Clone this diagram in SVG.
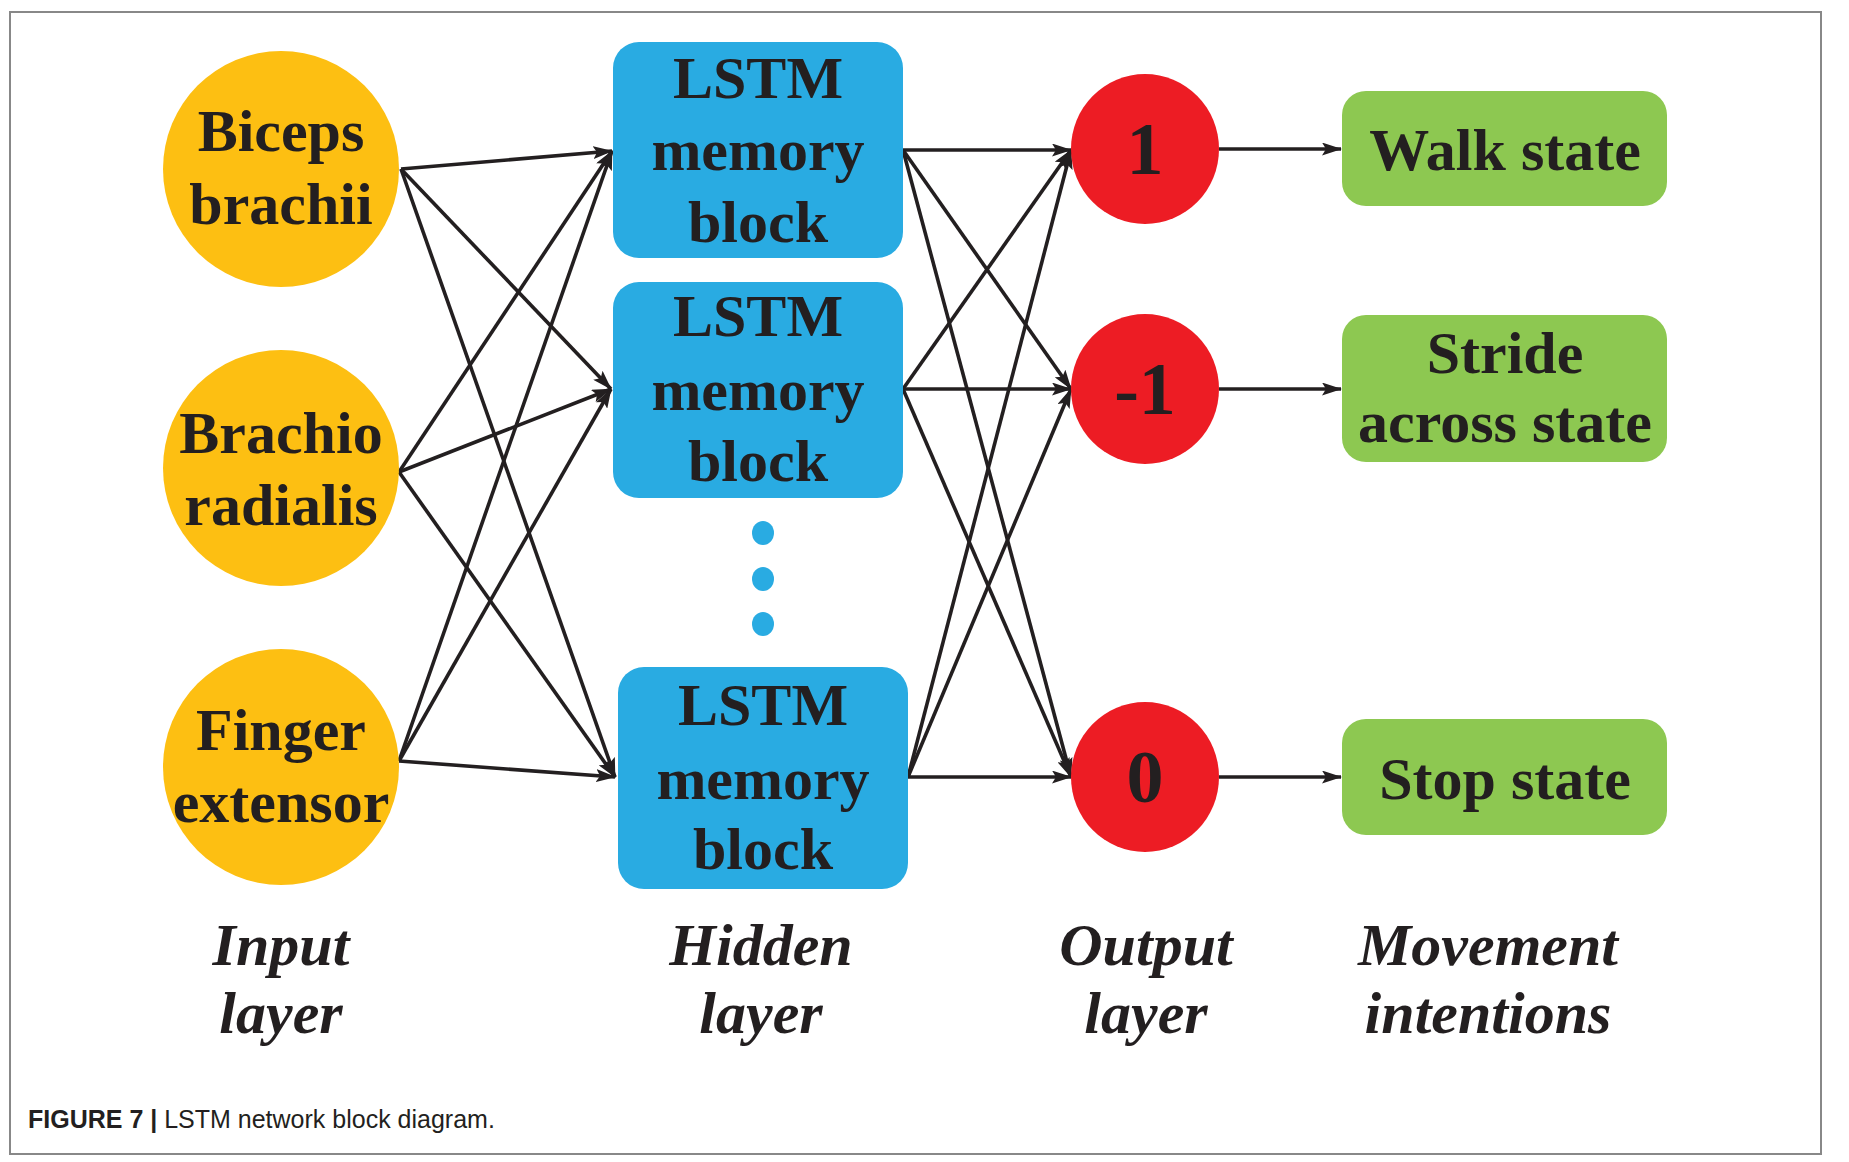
<svg xmlns="http://www.w3.org/2000/svg" width="1849" height="1162" viewBox="0 0 1849 1162">
<style>
.lbl{font-family:"Liberation Serif","Times New Roman",serif;font-weight:bold;font-size:60px;fill:#231F20;text-anchor:middle}
.num{font-family:"Liberation Serif","Times New Roman",serif;font-weight:bold;font-size:74px;fill:#231F20;text-anchor:middle}
.cap{font-family:"Liberation Serif","Times New Roman",serif;font-weight:bold;font-style:italic;font-size:60px;fill:#231F20;text-anchor:middle}
.in{fill:#FDBF12}
.hid{fill:#29ABE2}
.out{fill:#ED1C24}
.mov{fill:#8DC851}
.conn line{stroke:#231F20;stroke-width:3.6;marker-end:url(#ah)}
.fig{font-family:"Liberation Sans",Arial,sans-serif;font-size:25px;fill:#231F20}
</style>
<defs>
<marker id="ah" viewBox="0 0 20 13" markerWidth="20" markerHeight="13" refX="19" refY="6.5" orient="auto" markerUnits="userSpaceOnUse">
<path d="M0,0 L20,6.5 L0,13 L4,6.5 Z" fill="#231F20"/>
</marker>
</defs>
<rect x="0" y="0" width="1849" height="1162" fill="#FFFFFF"/>
<rect id="frame" x="10" y="12" width="1811" height="1142" fill="none" stroke="#888888" stroke-width="2"/>

<g id="connectors" class="conn">
<line x1="401" y1="169" x2="612" y2="151"/>
<line x1="401" y1="169" x2="611" y2="389"/>
<line x1="401" y1="169" x2="615" y2="777"/>
<line x1="399" y1="472" x2="612" y2="151"/>
<line x1="399" y1="472" x2="611" y2="389"/>
<line x1="399" y1="472" x2="615" y2="777"/>
<line x1="399" y1="761" x2="612" y2="151"/>
<line x1="399" y1="761" x2="611" y2="389"/>
<line x1="399" y1="761" x2="615" y2="777"/>
<line x1="903" y1="150" x2="1071" y2="150"/>
<line x1="903" y1="150" x2="1071" y2="389"/>
<line x1="903" y1="150" x2="1071" y2="777"/>
<line x1="903" y1="389" x2="1071" y2="150"/>
<line x1="903" y1="389" x2="1071" y2="389"/>
<line x1="903" y1="389" x2="1071" y2="777"/>
<line x1="908" y1="777" x2="1071" y2="150"/>
<line x1="908" y1="777" x2="1071" y2="389"/>
<line x1="908" y1="777" x2="1071" y2="777"/>
<line x1="1219" y1="149" x2="1341" y2="149"/>
<line x1="1219" y1="389" x2="1341" y2="389"/>
<line x1="1219" y1="777" x2="1341" y2="777"/>
</g>

<g id="in-biceps">
<ellipse class="in" cx="281" cy="169" rx="118" ry="118"/>
<text class="lbl" x="281" y="151">Biceps</text>
<text class="lbl" x="281" y="224">brachii</text>
</g>
<g id="in-brachio">
<ellipse class="in" cx="281" cy="468" rx="118" ry="118"/>
<text class="lbl" x="281" y="453">Brachio</text>
<text class="lbl" x="281" y="525">radialis</text>
</g>
<g id="in-finger">
<ellipse class="in" cx="281" cy="767" rx="118" ry="118"/>
<text class="lbl" x="281" y="750">Finger</text>
<text class="lbl" x="281" y="822">extensor</text>
</g>

<g id="hid-1">
<rect class="hid" x="613" y="42" width="290" height="216" rx="26"/>
<text class="lbl" x="758" y="98">LSTM</text>
<text class="lbl" x="758" y="170">memory</text>
<text class="lbl" x="758" y="242">block</text>
</g>
<g id="hid-2">
<rect class="hid" x="613" y="282" width="290" height="216" rx="26"/>
<text class="lbl" x="758" y="336">LSTM</text>
<text class="lbl" x="758" y="410">memory</text>
<text class="lbl" x="758" y="481">block</text>
</g>
<g id="hid-dots">
<ellipse class="hid" cx="763" cy="533" rx="11" ry="12"/>
<ellipse class="hid" cx="763" cy="579" rx="11" ry="12"/>
<ellipse class="hid" cx="763" cy="624" rx="11" ry="12"/>
</g>
<g id="hid-3">
<rect class="hid" x="618" y="667" width="290" height="222" rx="26"/>
<text class="lbl" x="763" y="725">LSTM</text>
<text class="lbl" x="763" y="799">memory</text>
<text class="lbl" x="763" y="869">block</text>
</g>

<g id="out-1">
<ellipse class="out" cx="1145" cy="149" rx="74" ry="75"/>
<text class="num" x="1145" y="174">1</text>
</g>
<g id="out-m1">
<ellipse class="out" cx="1145" cy="389" rx="74" ry="75"/>
<text class="num" x="1145" y="414">-1</text>
</g>
<g id="out-0">
<ellipse class="out" cx="1145" cy="777" rx="74" ry="75"/>
<text class="num" x="1145" y="802">0</text>
</g>

<g id="mov-walk">
<rect class="mov" x="1342" y="91" width="325" height="115" rx="24"/>
<text class="lbl" x="1505" y="170">Walk state</text>
</g>
<g id="mov-stride">
<rect class="mov" x="1342" y="315" width="325" height="147" rx="24"/>
<text class="lbl" x="1505" y="373">Stride</text>
<text class="lbl" x="1505" y="442">across state</text>
</g>
<g id="mov-stop">
<rect class="mov" x="1342" y="719" width="325" height="116" rx="24"/>
<text class="lbl" x="1505" y="799">Stop state</text>
</g>

<g id="layer-labels">
<text class="cap" x="281" y="965">Input</text>
<text class="cap" x="281" y="1033">layer</text>
<text class="cap" x="761" y="965">Hidden</text>
<text class="cap" x="761" y="1033">layer</text>
<text class="cap" x="1146" y="965">Output</text>
<text class="cap" x="1146" y="1033">layer</text>
<text class="cap" x="1488" y="965">Movement</text>
<text class="cap" x="1488" y="1033">intentions</text>
</g>

<text class="fig" x="28" y="1128"><tspan font-weight="bold">FIGURE 7 | </tspan>LSTM network block diagram.</text>
</svg>
